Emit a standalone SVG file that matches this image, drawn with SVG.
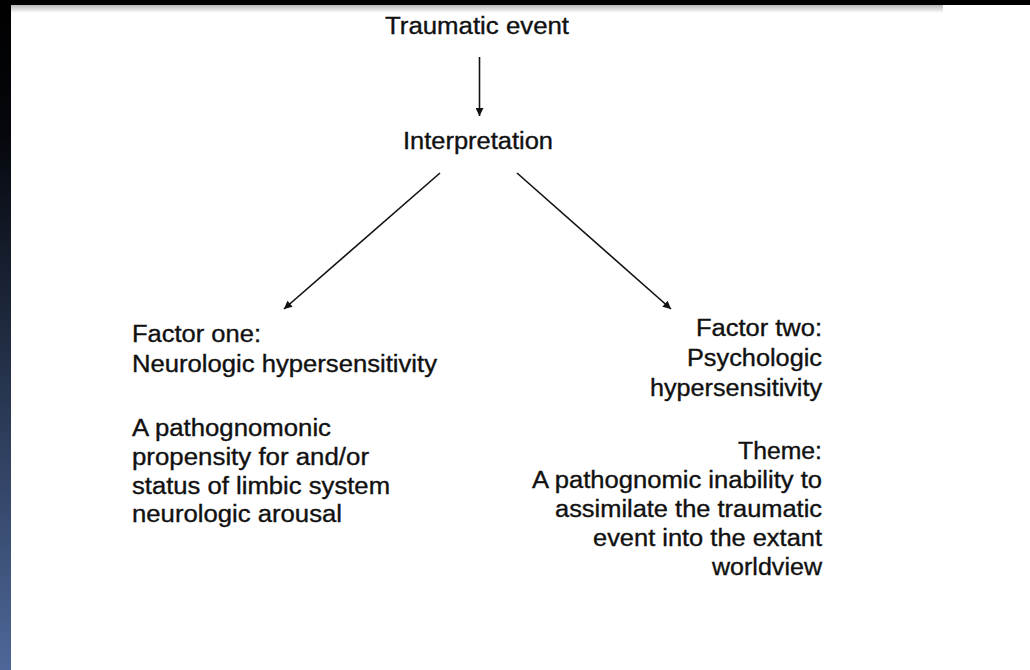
<svg xmlns="http://www.w3.org/2000/svg" width="1030" height="670" viewBox="0 0 1030 670">
<defs>
<linearGradient id="side" x1="0" y1="0" x2="0" y2="1">
<stop offset="0" stop-color="#000"/>
<stop offset="0.2" stop-color="#05070c"/>
<stop offset="1" stop-color="#4d6798"/>
</linearGradient>
<linearGradient id="shadow" x1="0" y1="0" x2="0" y2="1">
<stop offset="0" stop-color="#b8b8b8"/>
<stop offset="1" stop-color="#ffffff"/>
</linearGradient>
<marker id="ah" viewBox="0 0 10 10" refX="10" refY="5" markerWidth="10" markerHeight="8" markerUnits="userSpaceOnUse" orient="auto">
<path d="M0,0 L10,5 L0,10 Z" fill="#111"/>
</marker>
<style>
text{font-family:"Liberation Sans",Arial,sans-serif;font-size:23px;fill:#111;stroke:#111;stroke-width:0.35;}
.c{stroke:#111;stroke-width:1.6;fill:none;marker-end:url(#ah);}
</style>
</defs>
<rect x="0" y="0" width="1030" height="670" fill="#fff"/>
<rect x="0" y="0" width="11" height="670" fill="url(#side)"/>
<rect x="0" y="0" width="1030" height="5" fill="#000"/>
<rect x="11" y="5" width="932" height="8" fill="url(#shadow)"/>

<g id="connectors">
<line class="c" x1="479.5" y1="57" x2="479.5" y2="116"/>
<line class="c" x1="440" y1="173" x2="284" y2="309"/>
<line class="c" x1="517" y1="173" x2="671" y2="309"/>
</g>

<g id="traumatic-event">
<text x="385" y="34" textLength="184" lengthAdjust="spacingAndGlyphs">Traumatic event</text>
</g>
<g id="interpretation">
<text x="403" y="149" textLength="150" lengthAdjust="spacingAndGlyphs">Interpretation</text>
</g>
<g id="factor-one">
<text x="132" y="342" textLength="129" lengthAdjust="spacingAndGlyphs">Factor one:</text>
<text x="132" y="372" textLength="305" lengthAdjust="spacingAndGlyphs">Neurologic hypersensitivity</text>
<text x="132" y="436" textLength="199" lengthAdjust="spacingAndGlyphs">A pathognomonic</text>
<text x="132" y="465" textLength="237" lengthAdjust="spacingAndGlyphs">propensity for and/or</text>
<text x="132" y="494" textLength="258" lengthAdjust="spacingAndGlyphs">status of limbic system</text>
<text x="132" y="522" textLength="210" lengthAdjust="spacingAndGlyphs">neurologic arousal</text>
</g>
<g id="factor-two">
<text x="696" y="336" textLength="126" lengthAdjust="spacingAndGlyphs">Factor two:</text>
<text x="687" y="366" textLength="135" lengthAdjust="spacingAndGlyphs">Psychologic</text>
<text x="650" y="396" textLength="172" lengthAdjust="spacingAndGlyphs">hypersensitivity</text>
<text x="738" y="459" textLength="84" lengthAdjust="spacingAndGlyphs">Theme:</text>
<text x="532" y="488" textLength="290" lengthAdjust="spacingAndGlyphs">A pathognomic inability to</text>
<text x="555" y="517" textLength="267" lengthAdjust="spacingAndGlyphs">assimilate the traumatic</text>
<text x="593" y="546" textLength="229" lengthAdjust="spacingAndGlyphs">event into the extant</text>
<text x="712" y="575" textLength="110" lengthAdjust="spacingAndGlyphs">worldview</text>
</g>
</svg>
